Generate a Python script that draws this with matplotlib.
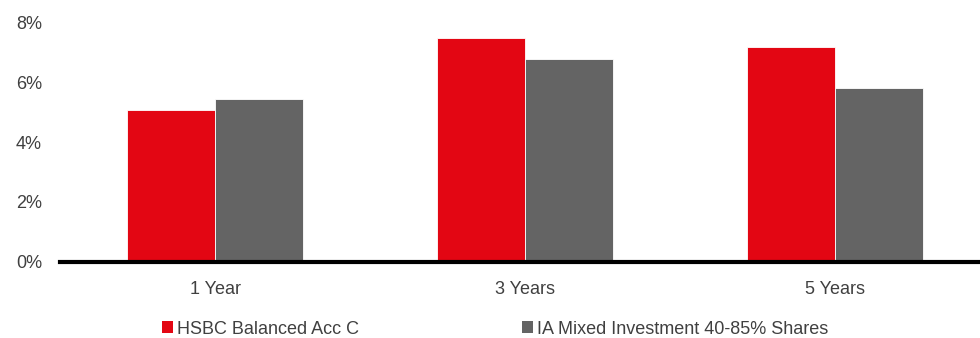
import matplotlib
matplotlib.use("Agg")
import matplotlib.pyplot as plt
from matplotlib.patches import Patch
import numpy as np

categories = ["1 Year", "3 Years", "5 Years"]
series_names = ["HSBC Balanced Acc C", "IA Mixed Investment 40-85% Shares"]
hsbc = [5.07, 7.50, 7.18]
ia_mixed = [5.46, 6.77, 5.81]
yticks = [0, 2, 4, 6, 8]
ytick_labels = ["0%", "2%", "4%", "6%", "8%"]

colors = ["#e30613", "#646464"]
text_color = "#404040"

plt.rcParams['font.family'] = ['Liberation Sans', 'DejaVu Sans']

fig = plt.figure(figsize=(9.8, 3.38), dpi=100)
ax = fig.add_axes([60/980, (338-261.7)/338, 920/980, (261.7-22.7)/338])

x = np.arange(len(categories))
w = 0.284
ax.bar(x - w/2, hsbc, width=w, color=colors[0], edgecolor='white', linewidth=0.6, label=series_names[0])
ax.bar(x + w/2, ia_mixed, width=w, color=colors[1], edgecolor='white', linewidth=0.6, label=series_names[1])

ax.set_ylim(0, 8)
ax.set_xlim(-0.5, 2.5 - 10/310)
ax.set_yticks(yticks)
ax.set_yticklabels(ytick_labels)
ax.set_xticks(x)
ax.set_xticklabels(categories)
ax.tick_params(axis='both', length=0, labelsize=13, colors=text_color)
ax.tick_params(axis='y', pad=13)
ax.tick_params(axis='x', pad=14)
for s in ['top', 'right', 'left']:
    ax.spines[s].set_visible(False)
ax.spines['bottom'].set_linewidth(3)
ax.spines['bottom'].set_color('black')
ax.spines['bottom'].set_zorder(5)

handles = [Patch(facecolor=colors[0]), Patch(facecolor=colors[1])]
leg = fig.legend(handles, series_names, loc='center left', bbox_to_anchor=(162/980, 1 - 329/338),
                 ncol=2, frameon=False, fontsize=13, handlelength=0.6, handleheight=0.6,
                 handletextpad=0.25, columnspacing=9.0, labelcolor=text_color,
                 borderaxespad=0, borderpad=0)

fig.savefig("out.png", dpi=100)
